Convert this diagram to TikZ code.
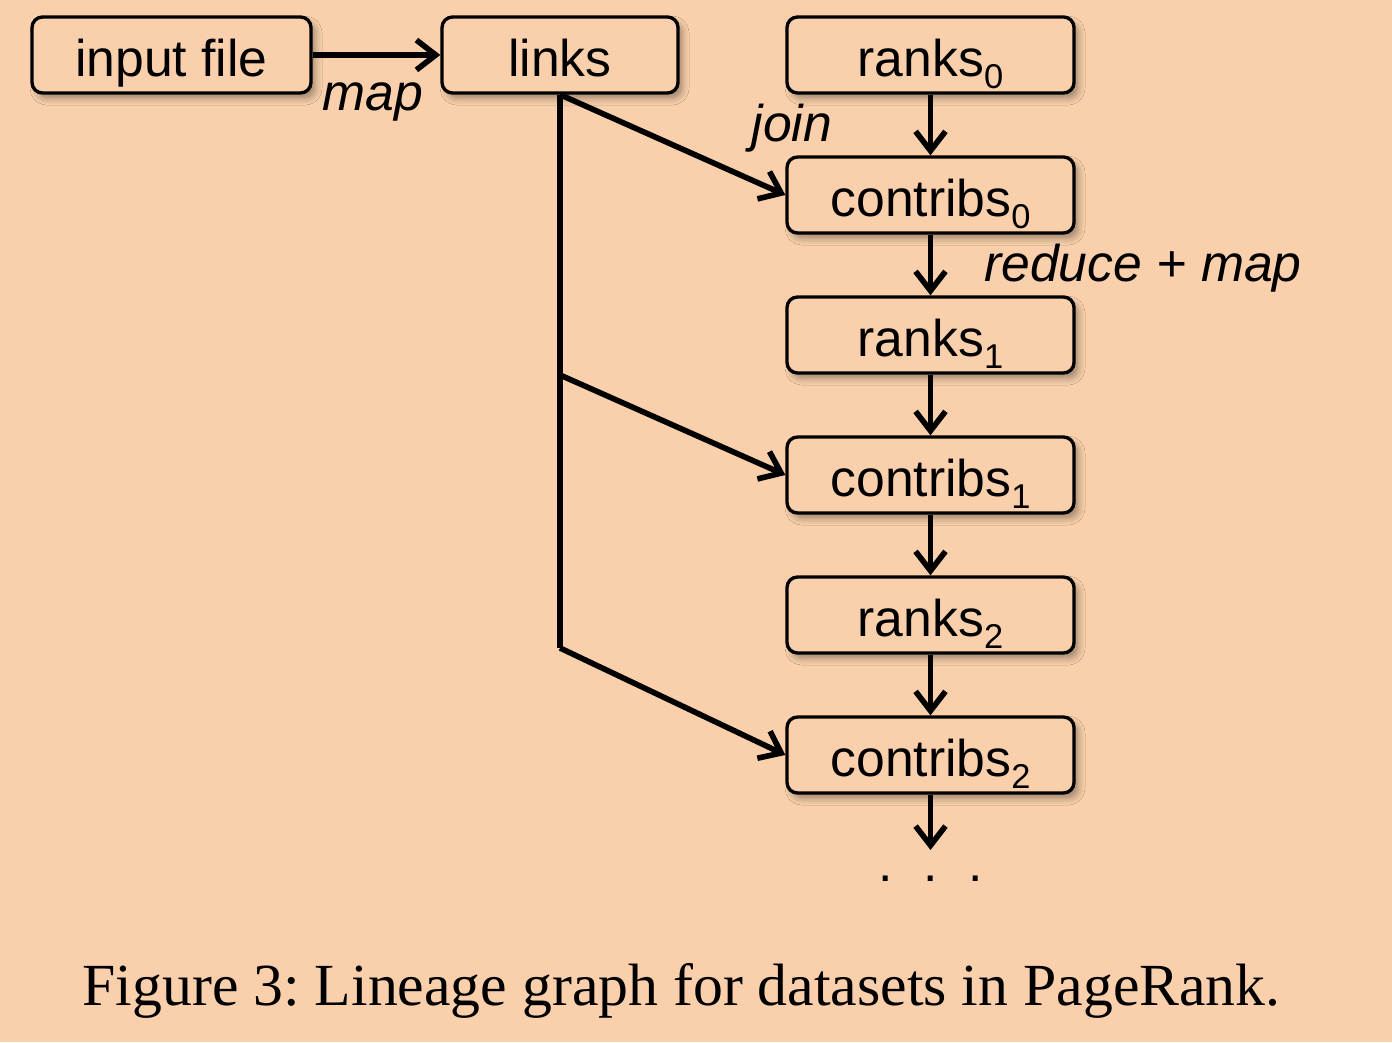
\documentclass[tikz,border=0pt]{standalone}
\usepackage{fontspec}
\setmainfont{Liberation Serif}
\setsansfont{Liberation Sans}
\usepackage{tikz}
\usetikzlibrary{arrows.meta}
\usetikzlibrary{shadows.blur}
\definecolor{peach}{RGB}{249, 208, 171}
\newcommand{\rddidx}[1]{\raisebox{-3.3pt}{\fontsize{9.8}{10}\selectfont #1}}
\frenchspacing

\begin{document}
\begin{tikzpicture}[
    rdd/.style={draw, line width=0.95pt, rounded corners=3pt, fill=peach,
        minimum width=2.87cm, minimum height=0.76cm, inner sep=0pt,
        text height=12.5pt, text depth=0pt,
        font=\sffamily\fontsize{14.7}{17}\selectfont,
        blur shadow={shadow xshift=1.3pt, shadow yshift=-1.6pt, shadow blur steps=6, shadow opacity=35}},
    op/.style={anchor=base, inner sep=0pt, font=\sffamily\itshape\fontsize{14.7}{17}\selectfont},
    strich/.style={line width=1.6pt},
    pfeil/.style={strich, -{Straight Barb[length=5.5pt, width=8.5pt]}}
]

    \fill[peach] (0,0) rectangle (13.92,10.42);
    \useasboundingbox (0,0) rectangle (13.92,10.42);

    % datasets
    \node[rdd, minimum width=2.79cm] (input) at (1.715,9.87) {input file};
    \node[rdd, minimum width=2.36cm] (links) at (5.60,9.87) {links};
    \node[rdd] (ranks0) at (9.305,9.87) {ranks\rddidx{0}};
    \node[rdd] (contribs0) at (9.305,8.47) {contribs\rddidx{0}};
    \node[rdd] (ranks1) at (9.305,7.07) {ranks\rddidx{1}};
    \node[rdd] (contribs1) at (9.305,5.67) {contribs\rddidx{1}};
    \node[rdd] (ranks2) at (9.305,4.27) {ranks\rddidx{2}};
    \node[rdd] (contribs2) at (9.305,2.87) {contribs\rddidx{2}};

    \coordinate (b1) at (5.60,6.67);
    \coordinate (b2) at (5.60,3.94);
    \coordinate (ende) at (9.305,1.92);

    % operations
    \draw[pfeil] (input) -- (links);
    \draw[strich] (links.south) -- (b2);
    \draw[pfeil] (links.south) -- (contribs0.west);
    \draw[pfeil] (b1) -- (contribs1.west);
    \draw[pfeil] (b2) -- (contribs2.west);
    \draw[pfeil] (ranks0) -- (contribs0);
    \draw[pfeil] (contribs0) -- (ranks1);
    \draw[pfeil] (ranks1) -- (contribs1);
    \draw[pfeil] (contribs1) -- (ranks2);
    \draw[pfeil] (ranks2) -- (contribs2);
    \draw[pfeil] (contribs2) -- (ende);

    \node[op] (map) at (3.73,9.31) {map};
    \node[op] (join) at (7.92,9.00) {join};
    \node[op] (redmap) at (11.43,7.60) {reduce + map};
    \node[op, font=\sffamily\fontsize{14.7}{17}\selectfont] (dots) at (9.305,1.61) {.\hspace{8.7pt}.\hspace{8.7pt}.};

    \node[anchor=base, inner sep=0pt, font=\fontsize{17}{20}\selectfont] (caption) at (6.815,0.37)
        {Figure 3: Lineage graph for datasets in PageRank.};

\end{tikzpicture}
\end{document}
